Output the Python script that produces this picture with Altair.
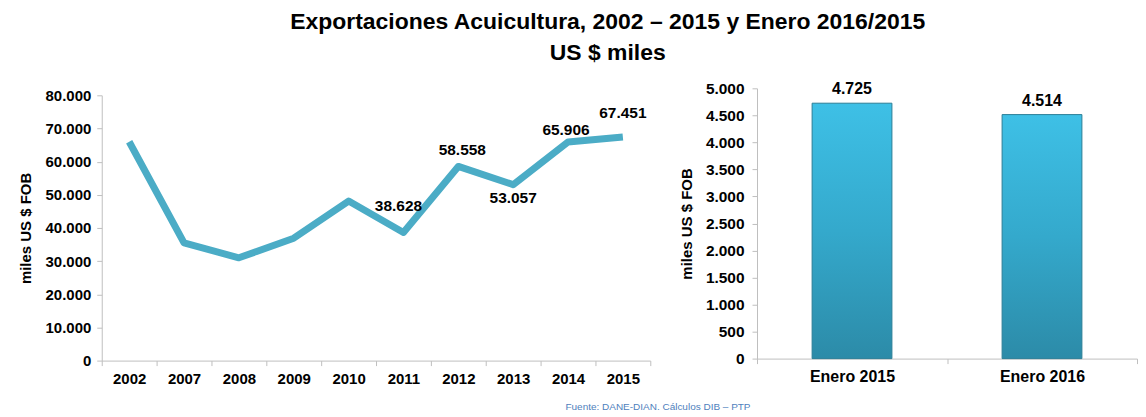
import altair as alt
import pandas as pd

# ---------------- data ----------------
years = ["2002", "2007", "2008", "2009", "2010", "2011", "2012", "2013", "2014", "2015"]
exports = [66000, 35500, 31000, 36900, 48100, 38628, 58558, 53057, 65906, 67451]
labeled_years = ["2011", "2012", "2013", "2014", "2015"]

periods = ["Enero 2015", "Enero 2016"]
jan_exports = [4725, 4514]

left_ticks = [0, 10000, 20000, 30000, 40000, 50000, 60000, 70000, 80000]
right_ticks = [0, 500, 1000, 1500, 2000, 2500, 3000, 3500, 4000, 4500, 5000]

title_lines = ["Exportaciones Acuicultura, 2002 \u2013 2015 y Enero 2016/2015", "US $ miles"]
y_title = "miles US $ FOB"
source_note = "Fuente: DANE-DIAN. C\u00e1lculos DIB \u2013 PTP"

# ---------------- style ----------------
FONT = "Liberation Sans"
LINE_COLOR = "#4BACC6"
AXIS_GRAY = "#BFBFBF"
label_offsets = {"2011": (-5, -27), "2012": (4, -16), "2013": (0, 13), "2014": (-2, -12), "2015": (0, -24)}
NUM_EXPR = "replace(format(datum.value, ','), ',', '.')"

line_df = pd.DataFrame({"year": years, "value": exports})
bar_df = pd.DataFrame({"period": periods, "value": jan_exports})

common_axis = dict(
    domainColor=AXIS_GRAY, tickColor=AXIS_GRAY, tickSize=5, grid=False,
    labelFont=FONT, labelFontWeight="bold", labelColor="#000000",
    titleFont=FONT, titleFontWeight="bold", titleColor="#000000", titleFontSize=15,
)

# ---------------- left: line chart ----------------
x_left = alt.X(
    "year:N", sort=years,
    scale=alt.Scale(paddingInner=0, paddingOuter=0),
    axis=alt.Axis(title=None, labelAngle=0, tickBand="extent", labelFontSize=15,
                  labelPadding=6, **common_axis),
)
y_left = alt.Y(
    "value:Q",
    scale=alt.Scale(domain=[0, 80000], range=[273, 7], nice=False, zero=True),
    axis=alt.Axis(title=y_title, values=left_ticks, labelExpr=NUM_EXPR, labelFontSize=15,
                  labelPadding=6, titlePadding=12, **common_axis),
)

base_left = alt.Chart(line_df)
line = base_left.mark_line(color=LINE_COLOR, strokeWidth=7, strokeJoin="round", strokeCap="butt").encode(
    x=x_left, y=y_left
)

text_layers = []
for yr in labeled_years:
    dx, dy = label_offsets[yr]
    text_layers.append(
        base_left.transform_filter(alt.datum.year == yr)
        .transform_calculate(label="replace(format(datum.value, ','), ',', '.')")
        .mark_text(dx=dx, dy=dy, font=FONT, fontSize=15.5, fontWeight="bold", color="#000000")
        .encode(x=x_left, y=y_left, text="label:N")
    )

left = alt.layer(line, *text_layers).properties(
    width=550, height=273,
    title=alt.TitleParams(text=source_note, orient="bottom", anchor="end", dx=100, offset=16,
                          font=FONT, fontSize=10, fontWeight="normal", color="#4F81BD"),
)

# ---------------- right: bar chart ----------------
x_right = alt.X(
    "period:N", sort=periods,
    scale=alt.Scale(paddingInner=0, paddingOuter=0),
    axis=alt.Axis(title=None, labelAngle=0, tickBand="extent", labelFontSize=16,
                  labelPadding=5, **common_axis),
)
y_right = alt.Y(
    "value:Q",
    scale=alt.Scale(domain=[0, 5000], nice=False),
    axis=alt.Axis(title=y_title, values=right_ticks, labelExpr=NUM_EXPR, labelFontSize=15.5,
                  labelPadding=8, titlePadding=11, **common_axis),
)

bar_fill = alt.Gradient(
    gradient="linear", x1=0, x2=0, y1=0, y2=1,
    stops=[alt.GradientStop(color="#3EC0E6", offset=0),
           alt.GradientStop(color="#34A9CC", offset=0.5),
           alt.GradientStop(color="#2C8BA8", offset=1)],
)
bars = alt.Chart(bar_df).mark_bar(
    color=bar_fill, stroke="#2A7D96", strokeWidth=1, width=alt.RelativeBandSize(0.42)
).encode(x=x_right, y=y_right)

bar_text = alt.Chart(bar_df).transform_calculate(
    label="replace(format(datum.value, ','), ',', '.')"
).mark_text(dy=-14, font=FONT, fontSize=16, fontWeight="bold", color="#000000").encode(
    x=x_right, y=y_right, text="label:N"
)

right = alt.layer(bars, bar_text).properties(width=381, height=271)

# ---------------- compose ----------------
chart = alt.hconcat(left, right, spacing=107, bounds="flush").properties(
    title=alt.TitleParams(text=title_lines, anchor="middle", font=FONT, fontSize=23, fontWeight="bold",
                          color="#000000", lineHeight=31, offset=16, dx=30),
    padding={"left": 10, "top": 2, "right": 0, "bottom": 0},
).configure_view(stroke=None)

chart.save("out.html", embed_options={"renderer": "svg", "actions": False})
